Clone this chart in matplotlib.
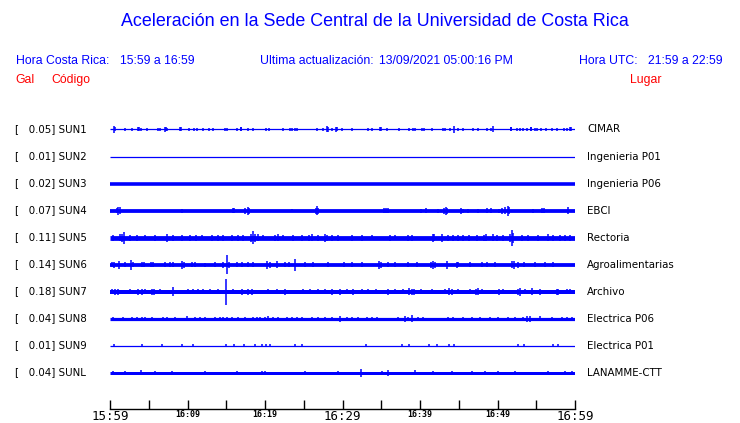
import matplotlib
matplotlib.use("Agg")
import matplotlib.pyplot as plt

# Stations, top to bottom
codes = ['SUN1', 'SUN2', 'SUN3', 'SUN4', 'SUN5', 'SUN6', 'SUN7', 'SUN8', 'SUN9', 'SUNL']
gal = [0.05, 0.01, 0.02, 0.07, 0.11, 0.14, 0.18, 0.04, 0.01, 0.04]
places = ['CIMAR', 'Ingenieria P01', 'Ingenieria P06', 'EBCI', 'Rectoria',
          'Agroalimentarias', 'Archivo', 'Electrica P06', 'Electrica P01', 'LANAMME-CTT']

# background noise level of each trace (display amplitude)
noise = [0.6, 0.6, 1.8, 1.9, 2.4, 1.9, 2.0, 1.6, 0.6, 1.5]

# bursts: (minute after 15:59, amplitude)
sun1 = [(0.52, 3.5), (0.6, 2), (1.94, 1.3), (2.88, 1.3), (3.6, 2), (3.75, 2), (4.0, 1.3), (4.82, 1.3),
        (6.24, 1.3), (6.45, 1.3), (7.05, 2.5), (7.2, 2), (7.35, 1.3), (9.0, 2), (9.1, 2), (10.24, 1.3),
        (10.88, 1.3), (11.23, 1.3), (11.96, 1.3), (12.82, 1.3), (13.33, 1.3), (14.84, 1.3), (15.14, 1.3),
        (16.34, 1.3), (16.85, 2), (16.95, 2), (17.76, 1.3), (18.5, 1.3), (20.13, 1.3), (20.52, 1.3),
        (22.37, 1.3), (23.23, 1.3), (23.53, 1.3), (23.87, 1.3), (24.17, 1.3), (26.75, 1.3), (27.44, 1.3),
        (27.95, 3), (28.1, 2.5), (28.6, 1.3), (29.2, 2.5), (29.3, 2), (29.98, 1.3), (31.18, 1.3),
        (33.25, 1.3), (33.76, 1.3), (34.85, 2), (35.0, 2), (35.7, 1.3), (37.33, 1.3), (38.58, 1.3),
        (39.14, 1.3), (39.35, 1.3), (40.21, 1.3), (40.52, 1.3), (41.5, 1.3), (42.92, 1.3), (43.23, 1.3),
        (43.87, 1.3), (44.43, 3.5), (44.86, 1.3), (45.5, 1.3), (46.8, 1.3), (47.53, 1.3), (48.64, 1.3),
        (49.12, 1.3), (49.46, 3), (51.7, 2), (51.8, 2), (52.56, 1.3), (52.95, 1.3), (53.33, 1.3),
        (53.85, 1.3), (54.27, 2), (54.37, 2), (54.84, 1.3), (55.14, 1.3), (55.57, 1.3), (56.21, 1.3),
        (57.07, 1.3), (57.63, 1.3), (58.58, 1.3), (58.92, 1.3), (59.4, 2), (59.5, 2)]
sun2 = []
sun3 = []
sun4 = [(0.86, 2.5), (1.08, 4), (1.29, 3.5), (9.25, 2), (15.83, 2.5), (16.04, 2.5), (17.42, 3),
        (17.76, 4), (17.98, 3), (23.44, 1.8), (26.54, 3), (26.71, 4.5), (26.88, 3), (35.31, 2.5),
        (35.57, 2.5), (35.83, 2.5), (40.09, 2), (40.73, 2.5), (42.37, 2), (43.1, 3), (43.31, 4),
        (43.53, 3), (45.25, 3), (45.51, 2), (46.15, 2), (47.53, 2), (48.6, 2.5), (49.12, 2.5),
        (50.24, 2), (50.62, 3), (50.97, 3.5), (51.31, 5), (51.53, 3.5), (54.54, 2), (55.78, 2.5),
        (56.04, 2.5), (59.05, 3.5)]
sun5 = [(0.43, 3), (1.29, 3.5), (1.59, 4), (1.81, 6), (2.58, 3), (3.44, 3), (4.52, 2.5), (5.81, 3),
        (7.31, 4), (8.17, 3), (9.25, 3), (10.32, 3), (11.05, 3), (11.83, 2.5), (13.12, 3), (13.98, 3),
        (14.62, 3), (15.7, 3), (16.56, 3), (17.2, 3), (18.15, 4), (18.41, 6.5), (18.71, 4), (19.05, 3.5),
        (19.78, 2.5), (21.29, 3), (21.63, 3.5), (22.37, 2.5), (23.66, 3), (24.73, 3), (25.68, 3),
        (26.02, 3.5), (26.88, 3), (27.74, 4), (27.96, 3), (28.6, 3), (29.46, 3), (31.18, 3), (32.47, 3),
        (33.76, 2.5), (36.13, 3), (36.77, 2.5), (38.49, 3), (38.92, 3), (41.63, 4), (41.85, 3.5),
        (42.8, 4), (43.66, 3), (44.3, 3), (44.95, 3), (45.59, 3), (46.37, 3), (47.31, 3), (48.22, 3),
        (48.47, 3.5), (49.46, 3.5), (49.89, 3), (50.75, 3), (51.61, 4), (51.83, 8), (52.04, 5),
        (53.12, 3), (53.89, 3), (55.27, 3), (56.56, 3.5), (57.2, 3), (58.06, 3), (58.71, 3), (59.35, 3)]
sun6 = [(0.22, 2.5), (0.52, 3), (1.2, 4), (1.94, 2.5), (2.67, 5), (3.01, 2.5), (4.09, 2.5), (4.43, 2.5),
        (5.25, 2.5), (5.59, 2.5), (7.1, 2.5), (7.74, 2.5), (8.17, 2.5), (9.33, 4), (9.55, 3), (10.54, 2.5),
        (10.97, 2.5), (12.26, 2), (13.55, 2.5), (14.62, 3), (15.05, 9.5), (15.35, 3), (16.34, 2.5),
        (16.99, 2.5), (17.85, 2.5), (18.49, 2.5), (20.3, 4), (20.65, 3), (21.51, 3.5), (22.58, 2.5),
        (23.14, 2.5), (23.91, 6), (25.16, 2.5), (26.24, 2.5), (28.17, 2.5), (30.19, 2.5), (31.18, 2.5),
        (32.47, 2.5), (34.71, 4), (34.97, 3), (35.91, 2.5), (36.77, 2.5), (38.49, 2.5), (39.57, 2.5),
        (41.42, 3), (41.63, 4), (41.94, 3), (43.44, 4), (44.73, 3), (44.95, 2.5), (46.45, 2.5),
        (47.96, 2.5), (48.6, 2.5), (49.68, 2.5), (51.91, 3.5), (52.17, 4), (52.69, 3), (53.46, 2.5),
        (54.84, 2.5), (56.13, 2.5), (57.2, 2.5)]
sun7 = [(0.22, 2.5), (0.65, 3), (1.08, 3), (2.58, 2.5), (3.66, 3), (4.09, 3), (4.52, 2.5), (5.38, 3),
        (5.72, 3), (6.45, 2.5), (8.09, 4.5), (10.02, 2.5), (10.75, 2.5), (11.4, 2.5), (12.04, 2.5),
        (12.9, 2.5), (13.98, 2.5), (14.97, 13), (15.91, 2.5), (16.99, 3), (17.85, 3), (18.28, 3),
        (20.43, 2.5), (21.51, 2.5), (22.58, 3), (24.95, 2.5), (25.81, 2.5), (26.88, 2.5), (27.74, 2.5),
        (28.6, 3), (29.68, 3), (30.54, 2.5), (31.4, 3), (32.47, 2.5), (33.33, 2.5), (34.28, 2.5),
        (35.91, 3), (36.77, 2.5), (37.76, 2.5), (38.58, 3.5), (38.92, 3), (39.27, 3), (40.13, 2.5),
        (41.51, 2.5), (43.23, 2.5), (43.78, 3.5), (44.09, 3), (44.95, 2.5), (46.45, 2.5), (47.23, 3),
        (47.53, 3.5), (47.96, 2.5), (50.24, 3), (50.75, 2.5), (52.69, 3), (52.9, 4), (53.55, 2.5),
        (54.41, 3.5), (55.48, 3), (57.63, 3), (57.85, 3), (58.92, 2.5), (59.35, 2.5)]
sun8 = [(0.43, 2.3), (1.72, 2.3), (2.8, 2.3), (3.44, 2.3), (4.09, 2.3), (4.52, 2.3), (5.38, 2.3),
        (6.88, 2.3), (7.31, 2.3), (8.39, 2.3), (9.89, 2.5), (10.97, 2.3), (11.61, 2.3), (12.26, 2.3),
        (13.55, 2.3), (14.19, 2.3), (14.62, 2.3), (15.05, 2.3), (15.7, 2.3), (16.56, 2.3), (17.42, 2.3),
        (18.49, 2.3), (18.92, 2.3), (19.35, 2.3), (20.0, 2.3), (20.43, 2.5), (21.08, 2.3), (21.72, 2.3),
        (22.8, 2.3), (23.44, 2.3), (24.09, 2.3), (24.73, 2.3), (26.02, 2.3), (26.88, 2.3), (27.74, 2.3),
        (28.6, 2.3), (29.68, 3), (30.54, 2.3), (31.18, 2.3), (32.04, 2.3), (33.12, 2.3), (33.76, 2.3),
        (34.41, 2.3), (37.2, 2.3), (38.06, 3), (38.49, 2.3), (39.01, 3.5), (39.78, 2.3), (40.43, 2.3),
        (43.66, 2.3), (44.3, 2.3), (45.59, 2.3), (46.67, 2.3), (47.74, 2.3), (49.03, 2.3), (50.11, 2.3),
        (51.4, 2.3), (52.26, 2.3), (53.33, 2.3), (53.76, 3), (54.19, 3), (55.48, 2.5), (56.99, 2.3),
        (58.28, 2.3), (58.92, 2.3), (59.57, 2.3)]
sun9 = [(0.52, 1.5), (4.09, 1.5), (6.67, 1.5), (9.25, 1.5), (10.67, 1.5), (14.92, 1.5), (16.0, 1.5),
        (17.33, 1.5), (18.71, 1.5), (19.66, 1.5), (20.09, 1.5), (20.6, 1.5), (23.91, 1.5), (24.73, 1.5),
        (32.99, 1.5), (37.63, 1.5), (38.58, 1.5), (41.2, 1.5), (42.24, 1.5), (43.78, 1.5), (44.43, 1.5),
        (52.69, 1.5), (53.46, 1.5), (57.2, 1.5), (57.85, 1.5)]
sunl = [(0.43, 2), (1.94, 2), (3.96, 2.5), (5.81, 2), (7.96, 2), (12.26, 2), (16.34, 2), (19.57, 2),
        (20.0, 2), (25.16, 2), (29.46, 2), (32.34, 4), (35.05, 2), (35.83, 3), (39.35, 2.5), (41.72, 2),
        (44.09, 2), (46.67, 2), (48.39, 2), (50.11, 2), (52.26, 2), (56.56, 2), (58.71, 2), (59.57, 2)]
bursts = [sun1, sun2, sun3, sun4, sun5, sun6, sun7, sun8, sun9, sunl]

tick_min = list(range(0, 61, 5))
tick_lab = ['15:59', '', '16:09', '', '16:19', '', '16:29', '', '16:39', '', '16:49', '', '16:59']
big_lab = ['15:59', '16:29', '16:59']

BLUE = '#0000ff'
W, H = 740, 423
ROW_PX = 27.0

fig = plt.figure(figsize=(W / 100, H / 100), dpi=100)
ax = fig.add_axes([110 / W, 1 - 409 / H, 465 / W, (409 - 116.5) / H])

for i in range(len(codes)):
    ax.hlines(i, 0, 60, color=BLUE, lw=max(noise[i] * 2 * 0.72, 0.9))
    if bursts[i]:
        t = [b[0] for b in bursts[i]]
        a = [b[1] / ROW_PX for b in bursts[i]]
        ax.vlines(t, [i - v for v in a], [i + v for v in a], color=BLUE, lw=1.1)

ax.set_xlim(0, 60)
ax.set_ylim(10.333, -0.48)
for s in ['top', 'left', 'right']:
    ax.spines[s].set_visible(False)
ax.spines['bottom'].set_linewidth(1.0)
ax.set_yticks([])
ax.set_xticks(tick_min)
ax.set_xticklabels(tick_lab)
ax.tick_params(axis='x', direction='in', length=6.5, width=1.0, pad=1)
for lab in ax.get_xticklabels():
    lab.set_fontfamily('DejaVu Sans Mono')
    if lab.get_text() in big_lab:
        lab.set_fontsize(9)
    else:
        lab.set_fontsize(6)
        lab.set_fontweight('bold')

# row labels
for i in range(len(codes)):
    y = 1 - (129.5 + i * ROW_PX) / H
    fig.text(15 / W, y, '[   %.2f] %s' % (gal[i], codes[i]), fontsize=7.4,
             family='DejaVu Sans', va='center', ha='left')
    fig.text(587 / W, y, places[i], fontsize=7.4, family='DejaVu Sans', va='center', ha='left')

# header
hf = 'Liberation Sans'
fs = 8.8
fig.text(375 / W, 1 - 22 / H, 'Aceleración en la Sede Central de la Universidad de Costa Rica',
         fontsize=12.9, family=hf, color=BLUE, ha='center', va='center')
hy = 1 - 61 / H
fig.text(16 / W, hy, 'Hora Costa Rica:', fontsize=fs, family=hf, color=BLUE, va='center')
fig.text(120 / W, hy, '15:59 a 16:59', fontsize=fs, family=hf, color=BLUE, va='center')
fig.text(260 / W, hy, 'Ultima actualización:', fontsize=fs, family=hf, color=BLUE, va='center')
fig.text(379 / W, hy, '13/09/2021 05:00:16 PM', fontsize=fs, family=hf, color=BLUE, va='center')
fig.text(579 / W, hy, 'Hora UTC:', fontsize=fs, family=hf, color=BLUE, va='center')
fig.text(648 / W, hy, '21:59 a 22:59', fontsize=fs, family=hf, color=BLUE, va='center')
ry = 1 - 80 / H
fig.text(15 / W, ry, 'Gal', fontsize=fs, family=hf, color='red', va='center')
fig.text(51 / W, ry, 'Código', fontsize=fs, family=hf, color='red', va='center')
fig.text(630 / W, ry, 'Lugar', fontsize=fs, family=hf, color='red', va='center')

fig.savefig('out.png', dpi=100)
